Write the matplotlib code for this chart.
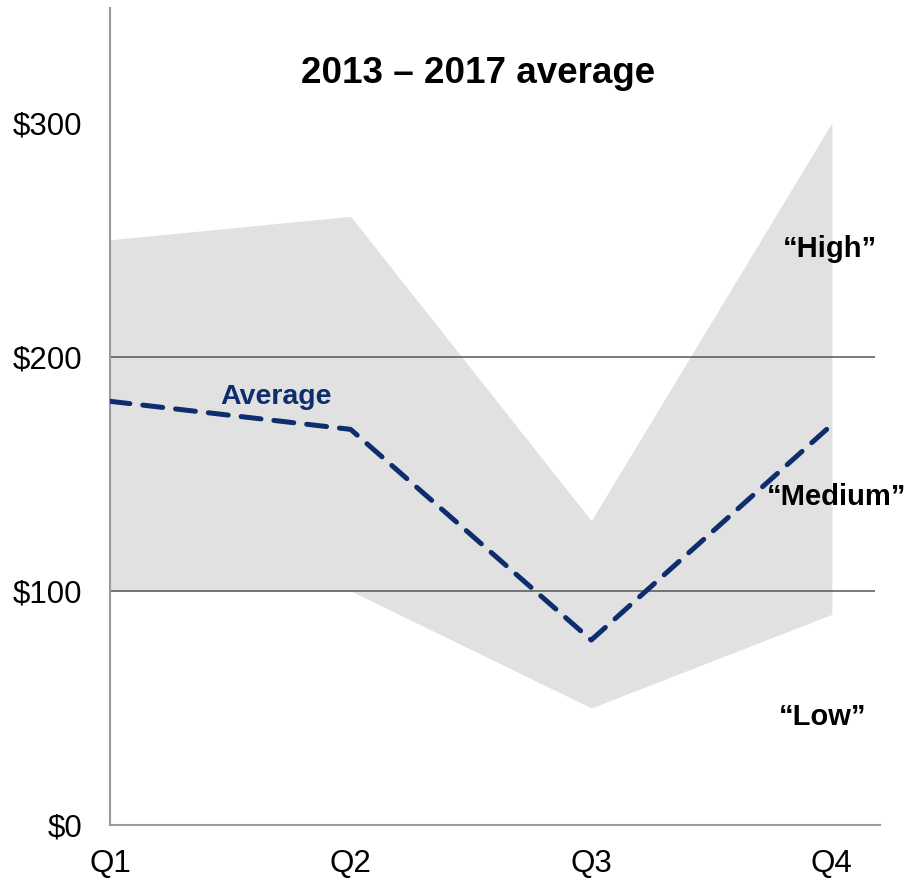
import numpy as np
import matplotlib.pyplot as plt

plt.rcParams['font.family'] = ['Liberation Sans', 'DejaVu Sans']

# Дані з графіка
quarters = ['Q1', 'Q2', 'Q3', 'Q4']
band_high = [250, 260, 130, 300]
band_low = [100, 100, 50, 90]
average = [181, 169, 79, 171]
y_ticks = [0, 100, 200, 300]
y_labels = ['$0', '$100', '$200', '$300']
grid_levels = [100, 200]

x = np.arange(len(quarters))

fig = plt.figure(figsize=(9.06, 8.81), dpi=100)
ax = fig.add_axes([110 / 906, 56 / 881, 770 / 906, 817 / 881])

# Сіра смуга діапазону
ax.fill_between(x, band_low, band_high, color='#e1e1e1', linewidth=0, zorder=1)

# Горизонтальні лінії
for lvl in grid_levels:
    ax.hlines(lvl, -0.01, 3.18, color='#555555', linewidth=1.1, zorder=2)

# Середнє значення
ax.plot(x, average, color='#0d2d6c', linewidth=3.6, linestyle=(0, (4, 2.6)),
        dash_capstyle='round', solid_joinstyle='miter', zorder=3)

ax.text(0.69, 183, 'Average', color='#0d2d6c', fontsize=20.5, fontweight='bold',
        ha='center', va='center', zorder=4)
ax.text(2.99, 246, '\u201cHigh\u201d', fontsize=21, fontweight='bold', ha='center', va='center')
ax.text(3.02, 140, '\u201cMedium\u201d', fontsize=21, fontweight='bold', ha='center', va='center')
ax.text(2.96, 46, '\u201cLow\u201d', fontsize=21, fontweight='bold', ha='center', va='center')
ax.text(1.53, 321, '2013 \u2013 2017 average', fontsize=26.5, fontweight='bold',
        ha='center', va='center')

ax.set_xlim(0, 3.2)
ax.set_ylim(0, 349)
ax.set_xticks(x)
ax.set_xticklabels(quarters, fontsize=22.5)
ax.set_yticks(y_ticks)
ax.set_yticklabels(y_labels, fontsize=22.5)
ax.tick_params(axis='both', length=0)
ax.tick_params(axis='x', pad=17)
ax.tick_params(axis='y', pad=20)

for side in ['top', 'right']:
    ax.spines[side].set_visible(False)
ax.spines['left'].set_color('#9a9a9a')
ax.spines['left'].set_linewidth(1.5)
ax.spines['bottom'].set_color('#9a9a9a')
ax.spines['bottom'].set_linewidth(1.5)

fig.savefig('out.png', dpi=100)
